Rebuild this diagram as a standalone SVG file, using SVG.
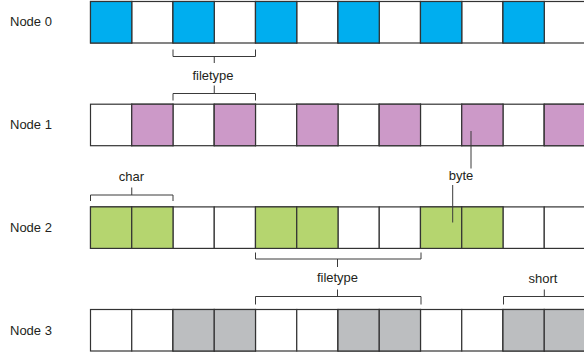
<svg xmlns="http://www.w3.org/2000/svg" width="584" height="358" viewBox="0 0 584 358">
  <style>
    .lbl { font-family: "Liberation Sans", Arial, sans-serif; font-size: 13px; fill: #231f20; }
    .mid { text-anchor: middle; }
    .cell { stroke: #333333; stroke-width: 1.2; fill: #ffffff; }
    .blue { fill: #00aeef; }
    .pink { fill: #cc99c8; }
    .green { fill: #b5d56f; }
    .gray { fill: #bcbec0; }
    .br { fill: none; stroke: #3a3a3a; stroke-width: 1; }
  </style>
  <defs>
    <!-- one row of 12 byte cells, 41.25 wide -->
    <g id="row">
      <rect class="cell" x="90.5" y="0" width="41.25" height="41.5"/>
      <rect class="cell" x="131.75" y="0" width="41.25" height="41.5"/>
      <rect class="cell" x="173" y="0" width="41.25" height="41.5"/>
      <rect class="cell" x="214.25" y="0" width="41.25" height="41.5"/>
      <rect class="cell" x="255.5" y="0" width="41.25" height="41.5"/>
      <rect class="cell" x="296.75" y="0" width="41.25" height="41.5"/>
      <rect class="cell" x="338" y="0" width="41.25" height="41.5"/>
      <rect class="cell" x="379.25" y="0" width="41.25" height="41.5"/>
      <rect class="cell" x="420.5" y="0" width="41.25" height="41.5"/>
      <rect class="cell" x="461.75" y="0" width="41.25" height="41.5"/>
      <rect class="cell" x="503" y="0" width="41.25" height="41.5"/>
      <rect class="cell" x="544.25" y="0" width="41.25" height="41.5"/>
    </g>
  </defs>

  <rect width="584" height="358" fill="#ffffff"/>

  <g id="node0">
    <text class="lbl" x="10" y="26">Node 0</text>
    <g transform="translate(0,1.5)">
      <use href="#row"/>
      <rect class="cell blue" x="90.5" y="0" width="41.25" height="41.5"/>
      <rect class="cell blue" x="173" y="0" width="41.25" height="41.5"/>
      <rect class="cell blue" x="255.5" y="0" width="41.25" height="41.5"/>
      <rect class="cell blue" x="338" y="0" width="41.25" height="41.5"/>
      <rect class="cell blue" x="420.5" y="0" width="41.25" height="41.5"/>
      <rect class="cell blue" x="503" y="0" width="41.25" height="41.5"/>
    </g>
  </g>

  <g id="node1">
    <text class="lbl" x="10" y="129">Node 1</text>
    <g transform="translate(0,104.2)">
      <use href="#row"/>
      <rect class="cell pink" x="131.75" y="0" width="41.25" height="41.5"/>
      <rect class="cell pink" x="214.25" y="0" width="41.25" height="41.5"/>
      <rect class="cell pink" x="296.75" y="0" width="41.25" height="41.5"/>
      <rect class="cell pink" x="379.25" y="0" width="41.25" height="41.5"/>
      <rect class="cell pink" x="461.75" y="0" width="41.25" height="41.5"/>
      <rect class="cell pink" x="544.25" y="0" width="41.25" height="41.5"/>
    </g>
  </g>

  <g id="node2">
    <text class="lbl" x="10" y="232">Node 2</text>
    <g transform="translate(0,206.9)">
      <use href="#row"/>
      <rect class="cell green" x="90.5" y="0" width="41.25" height="41.5"/>
      <rect class="cell green" x="131.75" y="0" width="41.25" height="41.5"/>
      <rect class="cell green" x="255.5" y="0" width="41.25" height="41.5"/>
      <rect class="cell green" x="296.75" y="0" width="41.25" height="41.5"/>
      <rect class="cell green" x="420.5" y="0" width="41.25" height="41.5"/>
      <rect class="cell green" x="461.75" y="0" width="41.25" height="41.5"/>
    </g>
  </g>

  <g id="node3">
    <text class="lbl" x="10" y="334.5">Node 3</text>
    <g transform="translate(0,309.5)">
      <use href="#row"/>
      <rect class="cell gray" x="173" y="0" width="41.25" height="41.5"/>
      <rect class="cell gray" x="214.25" y="0" width="41.25" height="41.5"/>
      <rect class="cell gray" x="338" y="0" width="41.25" height="41.5"/>
      <rect class="cell gray" x="379.25" y="0" width="41.25" height="41.5"/>
      <rect class="cell gray" x="503" y="0" width="41.25" height="41.5"/>
      <rect class="cell gray" x="544.25" y="0" width="41.25" height="41.5"/>
    </g>
  </g>

  <g id="connectors">
    <!-- filetype between node 0 and node 1 -->
    <path class="br" d="M173,49.5 V56.5 H255.5 V49.5 M214.25,56.5 V63"/>
    <path class="br" d="M214.25,85.5 V93.5 M173,100.5 V93.5 H255.5 V100.5"/>
    <!-- char over node 2 -->
    <path class="br" d="M90.5,201 V195 H173 V201 M131.75,195 V187.5"/>
    <!-- byte leaders -->
    <path class="br" d="M471,131 V168.5 M452.7,185 V222.5"/>
    <!-- filetype between node 2 and node 3 -->
    <path class="br" d="M255.5,252.5 V259 H421 V252.5 M337.5,259 V267"/>
    <path class="br" d="M337.5,289.5 V296.5 M255.5,304.5 V296.5 H421 V304.5"/>
    <!-- short over node 3 -->
    <path class="br" d="M503.5,304.5 V296.5 H586 M544.3,296.5 V289.5"/>
  </g>

  <g id="labels">
    <text class="lbl mid" x="213" y="79.5">filetype</text>
    <text class="lbl mid" x="131.5" y="181">char</text>
    <text class="lbl mid" x="461" y="180">byte</text>
    <text class="lbl mid" x="337.5" y="281.5">filetype</text>
    <text class="lbl mid" x="543" y="282.5">short</text>
  </g>
</svg>
